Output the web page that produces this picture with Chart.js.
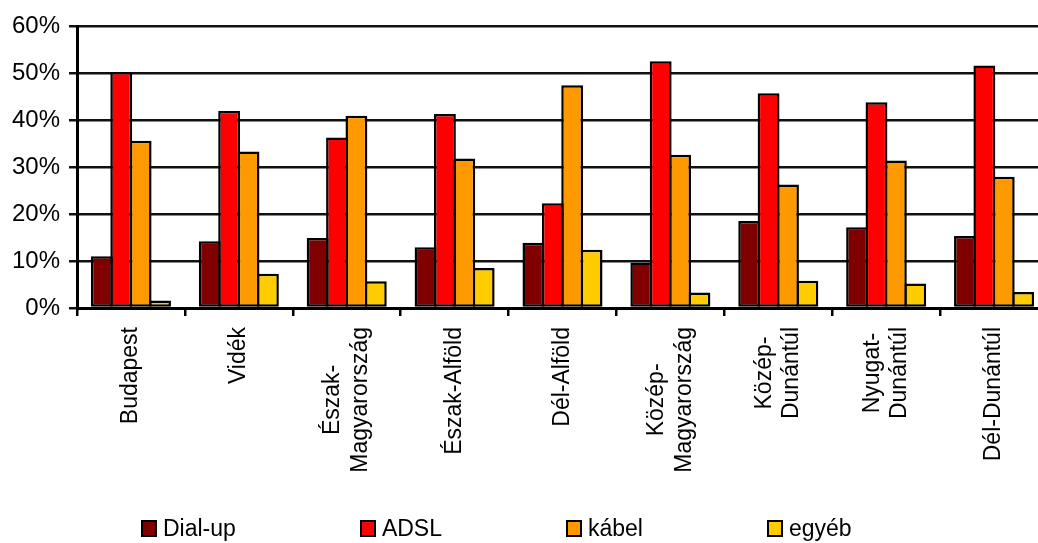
<!DOCTYPE html>
<html>
<head>
<meta charset="utf-8">
<script src="https://cdn.jsdelivr.net/npm/chart.js@4.4.0/dist/chart.umd.min.js"></script>
<style>
  html, body { margin: 0; padding: 0; background: #fff; overflow: hidden; width: 1038px; height: 543px; }
  #wrap { position: relative; width: 1038px; height: 543px; overflow: hidden; }
  #wrap canvas { position: absolute; left: 0; top: 0; }
  #legend { position: absolute; left: 141px; top: 515px; display: flex; gap: 124px;
            font: 23px 'Liberation Sans', Arial, sans-serif; line-height: 26px; color: #000; white-space: nowrap; }
  #legend .item { display: flex; align-items: center; }
  #legend .box { width: 12px; height: 13px; border: 2px solid #000; margin-right: 6px; }
</style>
</head>
<body>
<div id="wrap">
  <canvas id="chart" width="1048" height="543"></canvas>
  <div id="legend"></div>
</div>
<script>
// Internet access type by region (share of subscriptions, %)
const categories = [
  'Budapest',
  'Vidék',
  ['Észak-', 'Magyarország'],
  'Észak-Alföld',
  'Dél-Alföld',
  ['Közép-', 'Magyarország'],
  ['Közép-', 'Dunántúl'],
  ['Nyugat-', 'Dunántúl'],
  'Dél-Dunántúl'
];
const seriesNames = ['Dial-up', 'ADSL', 'kábel', 'egyéb'];
const dialUp = [11.0, 14.2, 14.9, 12.9, 13.9, 9.7, 18.5, 17.2, 15.3];
const adsl   = [50.2, 41.9, 36.3, 41.3, 22.3, 52.5, 45.7, 43.8, 51.6];
const kabel  = [35.6, 33.3, 40.9, 31.8, 47.4, 32.6, 26.3, 31.4, 27.9];
const egyeb  = [1.6, 7.3, 5.7, 8.5, 12.4, 3.3, 5.8, 5.2, 3.4];
const yTicks = [0, 10, 20, 30, 40, 50, 60];

const seriesValues = [dialUp, adsl, kabel, egyeb];
const seriesColors = ['#800000', '#FF0000', '#FF9900', '#FFCC00'];
const FONT = "'Liberation Sans', Arial, sans-serif";

// Rotated two-line category labels: keep the block centred on its category
// and centre the lines against each other.
const centerMultiline = {
  id: 'centerMultiline',
  beforeDraw(chart) {
    const scale = chart.scales.x;
    const items = scale.getLabelItems();
    if (items._centered) return;
    const ctx = chart.ctx;
    items.forEach(item => {
      if (!Array.isArray(item.label)) return;
      const n = item.label.length;
      ctx.save();
      ctx.font = item.font.string;
      const w = Math.max(...item.label.map(t => ctx.measureText(t).width));
      ctx.restore();
      item.options.translation[0] -= (n - 1) * item.font.lineHeight / 2;
      item.options.translation[1] += w / 2;
      item.options.textAlign = 'center';
    });
    items._centered = true;
  }
};

const chart = new Chart(document.getElementById('chart'), {
  type: 'bar',
  data: {
    labels: categories,
    datasets: seriesValues.map((values, i) => ({
      label: seriesNames[i],
      data: values,
      backgroundColor: seriesColors[i],
      borderColor: '#000',
      borderWidth: 2.5,
      borderSkipped: false,
      categoryPercentage: 0.7187,
      barPercentage: 1.129
    }))
  },
  options: {
    responsive: false,
    animation: false,
    layout: { padding: { top: 26, left: 0, right: 0, bottom: 0 } },
    plugins: {
      legend: { display: false },
      tooltip: { enabled: false }
    },
    scales: {
      x: {
        grid: { drawOnChartArea: false, drawTicks: true, tickLength: 8, color: '#000', lineWidth: 2.5, offset: true },
        border: { color: '#000', width: 3 },
        ticks: {
          color: '#000',
          font: { family: FONT, size: 23 },
          minRotation: 90,
          maxRotation: 90,
          autoSkip: false,
          padding: 11
        },
        afterFit(scale) { scale.height = 235; }
      },
      y: {
        min: yTicks[0],
        max: yTicks[yTicks.length - 1],
        afterBuildTicks(scale) { scale.ticks = yTicks.map(v => ({ value: v })); },
        grid: { color: '#111', lineWidth: 2.5, tickLength: 8, drawTicks: true },
        border: { color: '#000', width: 3 },
        ticks: {
          color: '#000',
          font: { family: FONT, size: 24 },
          padding: 9,
          callback: v => v + '%'
        },
        afterFit(scale) { scale.width = 77; }
      }
    }
  },
  plugins: [centerMultiline]
});

// Legend row built from the chart's datasets
const legend = document.getElementById('legend');
chart.data.datasets.forEach(ds => {
  const item = document.createElement('span');
  item.className = 'item';
  const box = document.createElement('span');
  box.className = 'box';
  box.style.background = ds.backgroundColor;
  const text = document.createElement('span');
  text.textContent = ds.label;
  item.appendChild(box);
  item.appendChild(text);
  legend.appendChild(item);
});
</script>
</body>
</html>
